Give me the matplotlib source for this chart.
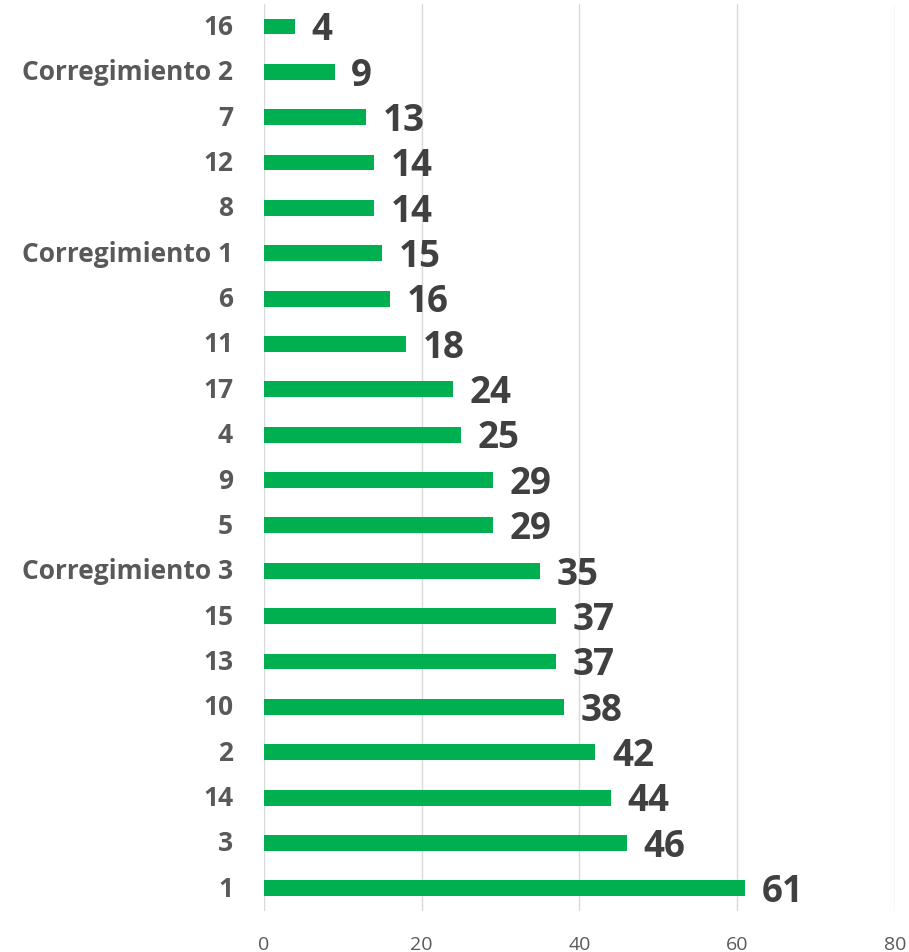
import matplotlib
matplotlib.use("Agg")
import matplotlib.pyplot as plt
import matplotlib.transforms as mtransforms

categories = ["16", "Corregimiento 2", "7", "12", "8", "Corregimiento 1", "6", "11", "17", "4",
              "9", "5", "Corregimiento 3", "15", "13", "10", "2", "14", "3", "1"]
values = [4, 9, 13, 14, 14, 15, 16, 18, 24, 25, 29, 29, 35, 37, 37, 38, 42, 44, 46, 61]
xticks = [0, 20, 40, 60, 80]

plt.rcParams['font.family'] = ['Open Sans', 'DejaVu Sans']

fig = plt.figure(figsize=(9.09, 9.53), dpi=100)
ax = fig.add_axes([0.29, 0.043, 0.695, 0.952])

ypos = list(range(len(categories)))
bars = ax.barh(ypos, values, height=0.35, color="#00B050", zorder=3)
ax.set_ylim(len(categories) - 0.5, -0.5)
ax.set_xlim(0, 80)
ax.set_yticks(ypos)
ax.set_yticklabels(categories, fontsize=19, fontweight="bold", color="#595959")
ax.set_xticks(xticks)
ax.set_xticklabels([str(t) for t in xticks], fontsize=14, color="#595959")
ax.tick_params(axis="y", length=0, pad=22)
ax.tick_params(axis="x", length=0, pad=17)
ax.grid(axis="x", color="#D9D9D9", linewidth=1, zorder=0)
for s in ax.spines.values():
    s.set_visible(False)

offset = mtransforms.ScaledTranslation(0, 3 / 100, fig.dpi_scale_trans)
for lbl in ax.get_yticklabels():
    lbl.set_transform(lbl.get_transform() + offset)

for y, v in zip(ypos, values):
    ax.annotate(str(v), xy=(v, y), xytext=(12, -2), textcoords="offset points",
                va="center", ha="left", fontsize=26.5, fontweight="bold", color="#404040")

fig.savefig("out.png", dpi=100)
